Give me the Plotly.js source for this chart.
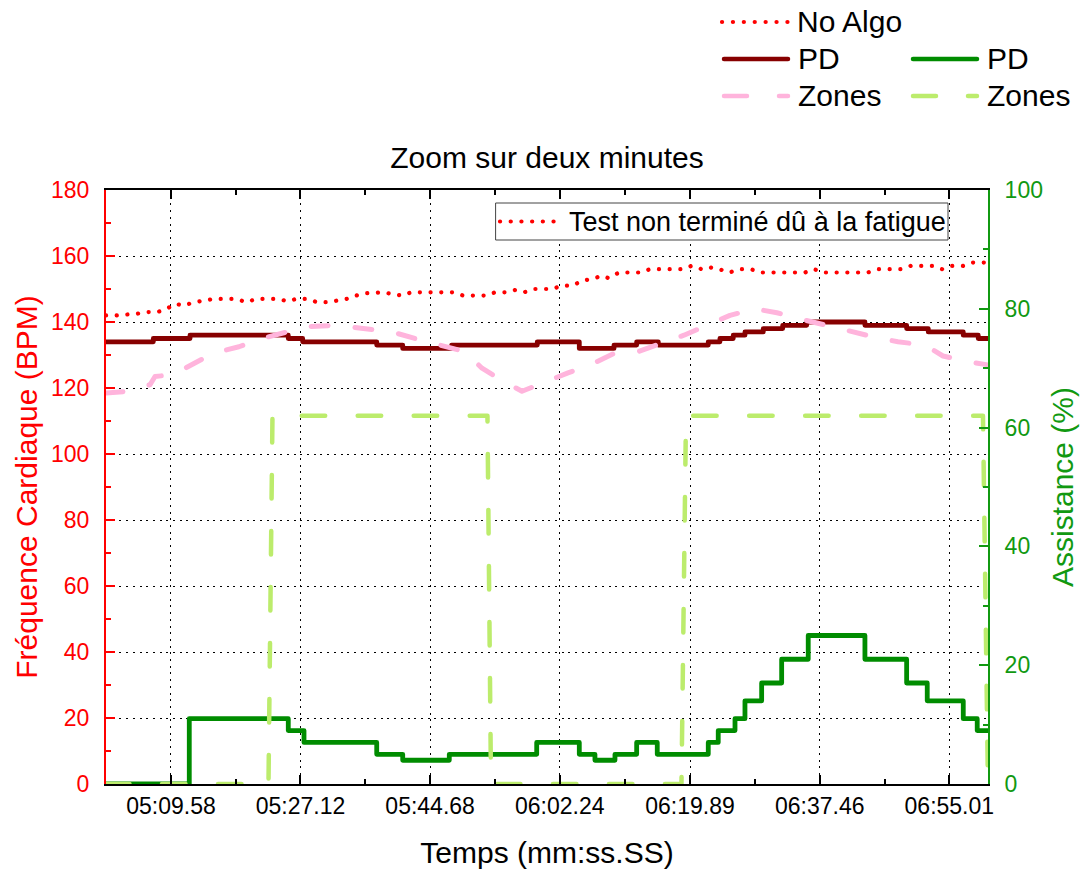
<!DOCTYPE html>
<html><head><meta charset="utf-8">
<script src="https://cdn.plot.ly/plotly-3.0.1.min.js"></script>
<style>
html,body{margin:0;padding:0;background:#fff;}
#chart{width:1087px;height:873px;}
.js-line{stroke-linecap:round!important;stroke-linejoin:round!important;}
.shapelayer path{stroke-linecap:round!important;}
</style></head><body><div id="chart"></div>
<script>
// X tick positions (seconds) and labels
const tickVals = [309.58, 327.12, 344.68, 362.24, 379.89, 397.46, 415.01];
const tickText = ["05:09.58", "05:27.12", "05:44.68", "06:02.24", "06:19.89", "06:37.46", "06:55.01"];
const minorTickVals = [318.35, 335.90, 353.46, 371.07, 388.68, 406.24];

// No Algo heart rate (BPM)
const noAlgoTime = [300.78, 302.09, 304.94, 306.29, 307.73, 309.00, 310.17, 311.34, 312.74, 313.96, 315.41, 318.35, 319.84, 321.14, 324.08, 325.34, 326.56, 328.00, 329.40, 330.85, 332.03, 333.38, 334.64, 335.90, 338.26, 339.52, 340.87, 342.13, 347.74, 349.18, 352.15, 353.51, 354.96, 356.22, 357.40, 358.75, 361.23, 362.50, 363.99, 365.21, 366.57, 367.96, 368.87, 370.26, 373.20, 374.46, 378.89, 380.11, 381.47, 382.45, 383.85, 385.20, 386.65, 388.10, 389.59, 395.46, 396.68, 398.03, 403.95, 405.39, 408.42, 409.77, 412.75, 414.05, 415.37, 416.86, 418.17, 420.24];
const noAlgoBPM = [142, 142, 142.5, 143, 143, 144, 145.5, 145, 146, 146.5, 147, 147, 146, 147, 147, 146.3, 147, 147, 146, 146, 146.5, 147, 148, 148.7, 149, 148.6, 148, 149, 149, 148, 148, 149, 149, 149.7, 149, 150, 150, 151, 151, 152.5, 153, 154, 153.3, 155, 155, 156, 156, 157, 156, 156.6, 156, 155, 156, 156, 155, 155, 156, 155, 155, 156, 156, 157, 157, 156, 157, 157, 158, 158];

// PD heart rate (BPM)
const pdHRTime = [300.78, 307.19, 312.16, 325.47, 327.42, 337.45, 340.97, 347.60, 359.20, 364.89, 369.59, 372.66, 375.59, 382.36, 383.94, 385.74, 387.33, 389.81, 392.44, 395.69, 403.58, 409.23, 412.16, 416.90, 418.93, 420.24];
const pdHR = [134, 135, 136, 135, 134, 133, 132, 133, 134, 132, 133, 134, 133, 134, 135, 136, 137, 138, 139, 140, 139, 138, 137, 136, 135, 135];

// Zones heart rate (BPM)
const zonesHRTime = [300.78, 303.76, 306.74, 307.42, 309.85, 312.83, 315.27, 318.79, 321.91, 325.30, 328.14, 332.07, 335.59, 339.52, 342.63, 346.29, 349.41, 351.71, 353.87, 357.13, 360.24, 363.36, 366.34, 369.45, 372.84, 376.22, 379.07, 382.18, 385.30, 388.68, 391.66, 395.05, 398.44, 401.96, 404.53, 408.05, 411.71, 414.15, 417.40, 420.24];
const zonesHR = [118.5, 119, 121, 123.5, 124, 127.5, 130.5, 132.5, 135, 137, 138.6, 139, 138, 137, 135, 133, 131, 126, 123, 119, 122, 124.6, 127, 130.3, 131, 133.5, 136, 139, 142, 144, 142.8, 140.8, 138.9, 136.8, 135.6, 134, 133, 129.7, 128, 127];

// PD assistance (%)
const pdAssistTime = [300.78, 312.06, 325.47, 327.60, 337.45, 340.97, 347.28, 359.12, 364.89, 367.01, 369.72, 372.66, 375.45, 382.36, 383.71, 385.98, 387.33, 389.59, 392.30, 395.90, 403.58, 409.23, 412.02, 416.90, 418.79, 420.24];
const pdAssist = [0, 11, 9, 7, 5, 4, 5, 7, 5, 4, 5, 7, 5, 7, 9, 11, 14, 17, 21, 25, 21, 17, 14, 11, 9, 9];

// Zones assistance (%)
const zonesAssistTime = [300.78, 322.79, 323.33, 352.45, 352.93, 378.73, 379.34, 419.57, 420.24];
const zonesAssist = [0, 0, 62, 62, 0, 0, 62, 62, 0];

const FONT = "'Liberation Sans', Arial, sans-serif";
const RED = '#ff0000', DARKRED = '#870000', PINK = '#ffb4dc', GREEN = '#008c00', LIME = '#bcec6c', AXGREEN = '#119911';
const BIG = 30;

const traces = [
  {x: noAlgoTime, y: noAlgoBPM, name: 'No Algo', mode: 'lines', yaxis: 'y',
   line: {color: RED, width: 4.2, dash: '0.1px,10.6px'}},
  {x: pdHRTime, y: pdHR, name: 'PD', mode: 'lines', yaxis: 'y',
   line: {color: DARKRED, width: 4.8, shape: 'hv'}},
  {x: zonesHRTime, y: zonesHR, name: 'Zones', mode: 'lines', yaxis: 'y',
   line: {color: PINK, width: 5, dash: '17px,27px'}},
  {x: pdAssistTime, y: pdAssist, name: 'PD', mode: 'lines', yaxis: 'y2',
   line: {color: GREEN, width: 4.8, shape: 'hv'}},
  {x: zonesAssistTime, y: zonesAssist, name: 'Zones', mode: 'lines', yaxis: 'y2',
   line: {color: LIME, width: 4.5, dash: '23.5px,32.5px'}}
];

const PX0 = 106, PW = 882, PY0 = 784, PH = 594;
const xp = px => (px - PX0) / PW;
const yp = py => (PY0 - py) / PH;

const shapes = [
  // inner legend box
  {type: 'rect', xref: 'paper', yref: 'paper', x0: xp(496), x1: xp(948), y0: yp(240), y1: yp(203),
   line: {color: '#444', width: 1}, fillcolor: '#fff', layer: 'above'},
  {type: 'line', xref: 'paper', yref: 'paper', x0: xp(500), x1: xp(557), y0: yp(221.5), y1: yp(221.5),
   line: {color: RED, width: 4.2, dash: '0.1px,10.6px'}, layer: 'above'},
  // top legend samples
  {type: 'line', xref: 'paper', yref: 'paper', x0: xp(722), x1: xp(790), y0: yp(22), y1: yp(22),
   line: {color: RED, width: 4.2, dash: '0.1px,10.8px'}},
  {type: 'line', xref: 'paper', yref: 'paper', x0: xp(724), x1: xp(788), y0: yp(59), y1: yp(59),
   line: {color: DARKRED, width: 4.5}},
  {type: 'line', xref: 'paper', yref: 'paper', x0: xp(913), x1: xp(977), y0: yp(59), y1: yp(59),
   line: {color: GREEN, width: 4.5}},
  {type: 'line', xref: 'paper', yref: 'paper', x0: xp(724), x1: xp(788), y0: yp(96), y1: yp(96),
   line: {color: PINK, width: 4.5, dash: '23px,32px'}},
  {type: 'line', xref: 'paper', yref: 'paper', x0: xp(913), x1: xp(977), y0: yp(96), y1: yp(96),
   line: {color: LIME, width: 4.5, dash: '23px,32px'}}
];

const ann = (text, px, py, size) => ({text, xref: 'paper', yref: 'paper', x: xp(px), y: yp(py),
  xanchor: 'left', yanchor: 'middle', showarrow: false, borderpad: 0,
  font: {family: FONT, size: size, color: '#000'}});

const annotations = [
  ann('Test non terminé dû à la fatigue', 568, 222, 27),
  ann('No Algo', 796, 22, BIG),
  ann('PD', 797, 59, BIG),
  ann('PD', 986, 59, BIG),
  ann('Zones', 797, 96, BIG),
  ann('Zones', 986, 96, BIG)
];

const layout = {
  width: 1087, height: 873,
  margin: {l: PX0, r: 1087 - 988, t: 190, b: 873 - 784, pad: 0},
  paper_bgcolor: '#fff', plot_bgcolor: '#fff',
  showlegend: false,
  font: {family: FONT, color: '#000'},
  title: {text: 'Zoom sur deux minutes', x: 0.5, xref: 'paper', y: 1 - 157 / 873, yref: 'container',
          yanchor: 'middle', font: {family: FONT, size: BIG, color: '#000'}},
  xaxis: {
    range: [300.78, 420.25], tickmode: 'array', tickvals: tickVals, ticktext: tickText,
    ticks: 'inside', ticklen: 9, tickwidth: 2, tickcolor: '#000',
    minor: {tickvals: minorTickVals, ticks: 'inside', ticklen: 5, tickwidth: 2, tickcolor: '#000'},
    showline: true, linecolor: '#000', linewidth: 2, mirror: 'ticks',
    showgrid: true, gridcolor: '#000', gridwidth: 1, griddash: '2px,4.7px',
    zeroline: false, ticklabelstandoff: 0,
    tickfont: {family: FONT, size: 23, color: '#000'},
    title: {text: 'Temps (mm:ss.SS)', font: {family: FONT, size: BIG, color: '#000'}, standoff: 24},
    automargin: false
  },
  yaxis: {
    range: [0, 180], tickmode: 'linear', tick0: 0, dtick: 20,
    ticks: 'inside', ticklen: 9, tickwidth: 2, tickcolor: RED,
    minor: {dtick: 10, ticks: 'inside', ticklen: 5, tickwidth: 2, tickcolor: RED},
    showline: true, linecolor: RED, linewidth: 2,
    showgrid: true, gridcolor: '#000', gridwidth: 1, griddash: '2px,4.7px',
    zeroline: false, ticklabelstandoff: 10,
    tickfont: {family: FONT, size: 23, color: RED},
    title: {text: 'Fréquence Cardiaque (BPM)', font: {family: FONT, size: BIG, color: RED}, standoff: 5},
    automargin: false
  },
  yaxis2: {
    range: [0, 100], tickmode: 'linear', tick0: 0, dtick: 20, overlaying: 'y', side: 'right', anchor: 'x',
    ticks: 'inside', ticklen: 9, tickwidth: 2, tickcolor: AXGREEN,
    minor: {dtick: 10, ticks: 'inside', ticklen: 5, tickwidth: 2, tickcolor: AXGREEN},
    showline: true, linecolor: AXGREEN, linewidth: 2,
    showgrid: false, zeroline: false, ticklabelstandoff: 10,
    tickfont: {family: FONT, size: 23, color: AXGREEN},
    title: {text: 'Assistance (%)', font: {family: FONT, size: BIG, color: AXGREEN}, standoff: 10},
    automargin: false
  },
  shapes, annotations
};

Plotly.newPlot('chart', traces, layout, {displayModeBar: false, staticPlot: true});
</script></body></html>
